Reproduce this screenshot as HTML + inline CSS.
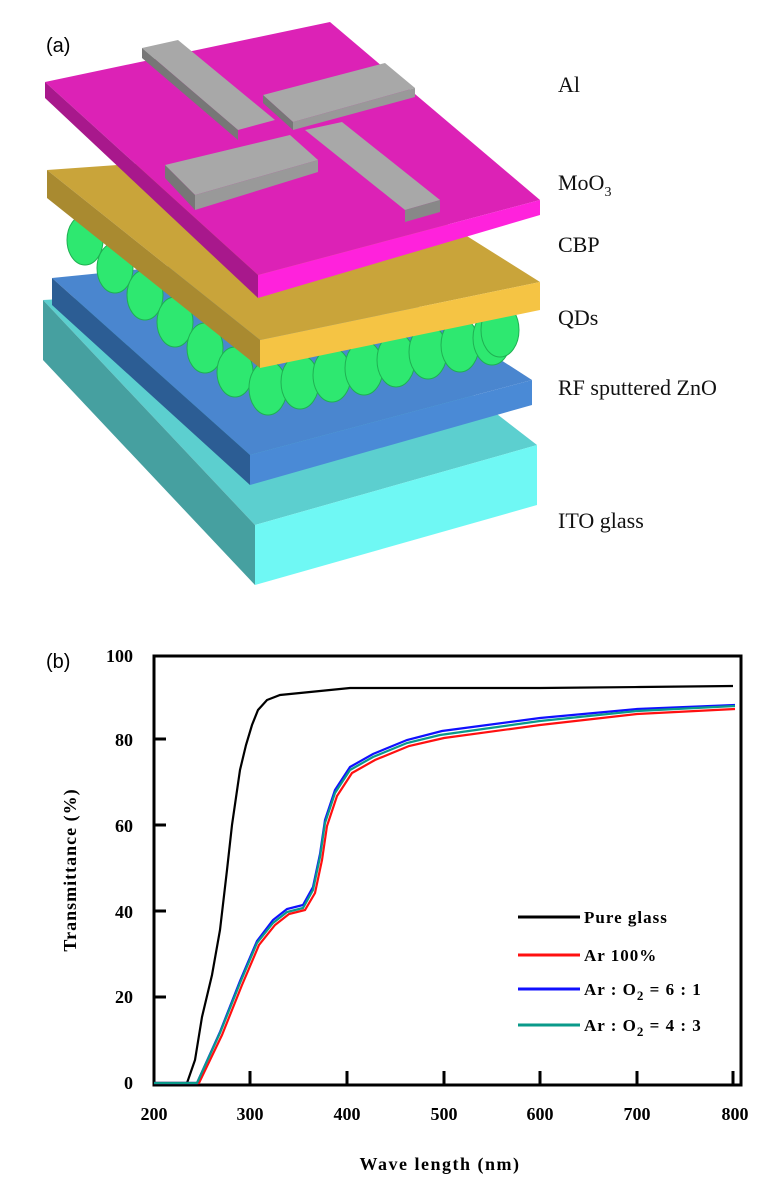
<!DOCTYPE html>
<html><head><meta charset="utf-8"><style>
body{margin:0;background:#fff;}
svg{display:block}
.s{font-family:"Liberation Serif",serif;}
</style></head><body>
<svg width="770" height="1189" viewBox="0 0 770 1189">
<text x="46" y="52" font-family="Liberation Sans,sans-serif" font-size="20">(a)</text>
<polygon points="43,300 330,285 537,445 255,525" fill="#5ccfcf"/>
<polygon points="43,300 255,525 255,585 43,360" fill="#46a0a0"/>
<polygon points="255,525 537,445 537,505 255,585" fill="#6ff8f4"/>
<polygon points="52,278 330,250 532,380 250,455" fill="#4a86cf"/>
<polygon points="52,278 250,455 250,485 52,305" fill="#2c5d94"/>
<polygon points="250,455 532,380 532,405 250,485" fill="#4a8ad6"/>
<g fill="#2ee870" stroke="#1fb052" stroke-width="1">
<ellipse cx="85" cy="240" rx="18" ry="25"/><ellipse cx="115" cy="268" rx="18" ry="25"/>
<ellipse cx="145" cy="295" rx="18" ry="25"/><ellipse cx="175" cy="322" rx="18" ry="25"/>
<ellipse cx="205" cy="348" rx="18" ry="25"/><ellipse cx="235" cy="372" rx="18" ry="25"/>
<ellipse cx="268" cy="388" rx="19" ry="27"/><ellipse cx="300" cy="382" rx="19" ry="27"/>
<ellipse cx="332" cy="375" rx="19" ry="27"/><ellipse cx="364" cy="368" rx="19" ry="27"/>
<ellipse cx="396" cy="360" rx="19" ry="27"/><ellipse cx="428" cy="352" rx="19" ry="27"/>
<ellipse cx="460" cy="345" rx="19" ry="27"/><ellipse cx="492" cy="338" rx="19" ry="27"/>
<ellipse cx="500" cy="330" rx="19" ry="27"/>
</g>
<polygon points="47,170 330,150 540,282 260,340" fill="#c9a43a"/>
<polygon points="47,170 260,340 260,368 47,198" fill="#a98a30"/>
<polygon points="260,340 540,282 540,310 260,368" fill="#f5c444"/>
<polygon points="45,82 330,22 540,200 258,275" fill="#dc22b6"/>
<polygon points="45,82 258,275 258,298 45,98" fill="#a8188c"/>
<polygon points="258,275 540,200 540,215 258,298" fill="#ff22dc"/>
<g>
<polygon points="142,48 178,40 275,120 238,130" fill="#a8a8a8"/>
<polygon points="142,48 238,130 238,140 142,58" fill="#777"/>
<polygon points="263,95 385,63 415,88 293,122" fill="#a8a8a8"/>
<polygon points="263,95 293,122 293,130 263,103" fill="#777"/>
<polygon points="293,122 415,88 415,97 293,130" fill="#999"/>
<polygon points="165,165 290,135 318,160 195,195" fill="#a8a8a8"/>
<polygon points="165,165 195,195 195,210 165,178" fill="#777"/>
<polygon points="195,195 318,160 318,172 195,210" fill="#999"/>
<polygon points="305,130 342,122 440,200 405,210" fill="#a8a8a8"/>
<polygon points="405,210 440,200 440,212 405,222" fill="#888"/>
</g>
<g class="s" font-size="22" fill="#111">
<text x="558" y="92">Al</text>
<text x="558" y="190">MoO<tspan font-size="14" dy="6">3</tspan></text>
<text x="558" y="252">CBP</text>
<text x="558" y="325">QDs</text>
<text x="558" y="395">RF sputtered  ZnO</text>
<text x="558" y="528">ITO glass</text>
</g>
<text x="46" y="668" font-family="Liberation Sans,sans-serif" font-size="20">(b)</text>
<rect x="154" y="656" width="587" height="429" fill="none" stroke="#000" stroke-width="3"/>
<g stroke="#000" stroke-width="3">
<line x1="154" y1="739" x2="166" y2="739"/><line x1="154" y1="825" x2="166" y2="825"/>
<line x1="154" y1="911" x2="166" y2="911"/><line x1="154" y1="997" x2="166" y2="997"/>
<line x1="250" y1="1085" x2="250" y2="1071"/><line x1="347" y1="1085" x2="347" y2="1071"/>
<line x1="444" y1="1085" x2="444" y2="1071"/><line x1="540" y1="1085" x2="540" y2="1071"/>
<line x1="637" y1="1085" x2="637" y2="1071"/><line x1="733" y1="1085" x2="733" y2="1071"/>
</g>
<g class="s" font-size="18" font-weight="bold" text-anchor="end">
<text x="133" y="662">100</text><text x="133" y="746">80</text><text x="133" y="832">60</text>
<text x="133" y="918">40</text><text x="133" y="1003">20</text><text x="133" y="1089">0</text>
</g>
<g class="s" font-size="18" font-weight="bold" text-anchor="middle">
<text x="154" y="1120">200</text><text x="250" y="1120">300</text><text x="347" y="1120">400</text>
<text x="444" y="1120">500</text><text x="540" y="1120">600</text><text x="637" y="1120">700</text><text x="735" y="1120">800</text>
<text x="440" y="1170" letter-spacing="1.5">Wave length (nm)</text>
<text transform="translate(76,870) rotate(-90)" letter-spacing="1">Transmittance (%)</text>
</g>
<g fill="none" stroke-width="2.2">
<polyline stroke="#000" points="154,1083 187,1083 195,1060 202,1017 212,975 220,930 227,870 232,825 240,770 246,745 252,725 258,710 267,700 280,695 300,693 330,690 350,688 444,688 540,688 640,687 733,686"/>
<polyline stroke="#ff1010" points="154,1083 199,1083 222,1035 242,985 259,945 275,925 289,914 305,910 315,893 322,860 327,826 337,796 352,773 375,760 409,746 444,738 540,725 637,714 735,709"/>
<polyline stroke="#1010ff" points="154,1083 197,1083 220,1032 240,981 257,941 273,920 287,909 303,905 313,887 320,854 325,820 335,790 350,767 373,754 407,740 442,731 540,718 637,709 735,705"/>
<polyline stroke="#0a9a8a" points="154,1083 197,1083 220,1033 240,983 257,943 273,923 287,912 303,908 313,890 320,857 325,823 335,793 350,770 373,757 407,743 440,735 540,721 637,711 735,706"/>
</g>
<g stroke-width="3">
<line x1="518" y1="917" x2="580" y2="917" stroke="#000"/>
<line x1="518" y1="955" x2="580" y2="955" stroke="#ff1010"/>
<line x1="518" y1="989" x2="580" y2="989" stroke="#1010ff"/>
<line x1="518" y1="1025" x2="580" y2="1025" stroke="#0a9a8a"/>
</g>
<g class="s" font-size="17" font-weight="bold" letter-spacing="1">
<text x="584" y="923">Pure glass</text>
<text x="584" y="961">Ar 100%</text>
<text x="584" y="995">Ar : O<tspan font-size="13" dy="5">2</tspan><tspan dy="-5"> = 6 : 1</tspan></text>
<text x="584" y="1031">Ar : O<tspan font-size="13" dy="5">2</tspan><tspan dy="-5"> = 4 : 3</tspan></text>
</g>
</svg>
</body></html>
